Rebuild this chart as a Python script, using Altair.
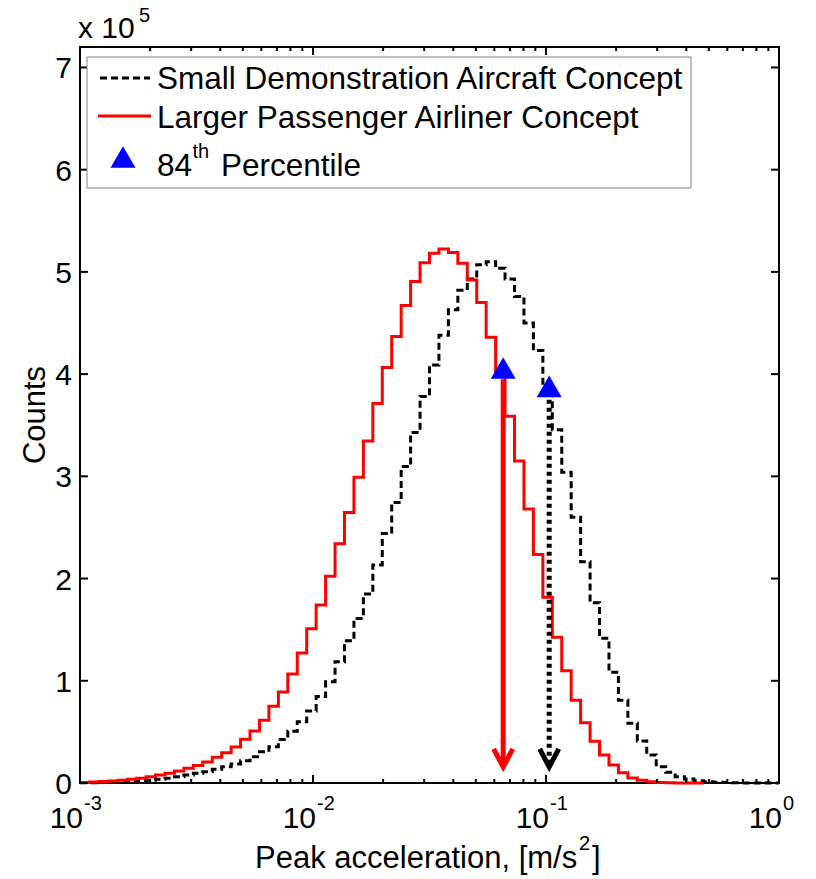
import altair as alt
import pandas as pd

# ---------------- data ----------------
# histogram bin edges (log10 of peak acceleration, m/s^2), 74 bins over 3 decades
edge_exp = [-3.0000, -2.9595, -2.9189, -2.8784, -2.8378, -2.7973, -2.7568, -2.7162, -2.6757, -2.6351,
            -2.5946, -2.5541, -2.5135, -2.4730, -2.4324, -2.3919, -2.3514, -2.3108, -2.2703, -2.2297,
            -2.1892, -2.1486, -2.1081, -2.0676, -2.0270, -1.9865, -1.9459, -1.9054, -1.8649, -1.8243,
            -1.7838, -1.7432, -1.7027, -1.6622, -1.6216, -1.5811, -1.5405, -1.5000, -1.4595, -1.4189,
            -1.3784, -1.3378, -1.2973, -1.2568, -1.2162, -1.1757, -1.1351, -1.0946, -1.0541, -1.0135,
            -0.9730, -0.9324, -0.8919, -0.8514, -0.8108, -0.7703, -0.7297, -0.6892, -0.6486, -0.6081,
            -0.5676, -0.5270, -0.4865, -0.4459, -0.4054, -0.3649, -0.3243, -0.2838, -0.2432, -0.2027,
            -0.1622, -0.1216, -0.0811, -0.0405, 0.0000]

# counts per bin, in units of 10^5
small_counts = [0.002, 0.003, 0.005, 0.007, 0.010, 0.014, 0.020, 0.026, 0.036, 0.046,
                0.062, 0.078, 0.095, 0.110, 0.134, 0.160, 0.186, 0.218, 0.257, 0.306,
                0.355, 0.425, 0.507, 0.600, 0.705, 0.845, 0.990, 1.187, 1.392, 1.610,
                1.850, 2.133, 2.440, 2.745, 3.095, 3.430, 3.780, 4.090, 4.380, 4.630,
                4.820, 4.930, 5.070, 5.100, 5.035, 4.930, 4.760, 4.500, 4.230, 3.870,
                3.456, 3.040, 2.600, 2.165, 1.764, 1.416, 1.083, 0.810, 0.584, 0.411,
                0.274, 0.160, 0.104, 0.062, 0.039, 0.022, 0.012, 0.007, 0.004, 0.002,
                0.001, 0.001, 0.0005, 0.0003]

large_counts = [0.006, 0.010, 0.014, 0.020, 0.026, 0.036, 0.046, 0.062, 0.078, 0.095,
                0.117, 0.144, 0.172, 0.205, 0.251, 0.297, 0.352, 0.428, 0.509, 0.615,
                0.750, 0.890, 1.067, 1.272, 1.510, 1.742, 2.022, 2.340, 2.645, 2.990,
                3.346, 3.713, 4.064, 4.367, 4.670, 4.905, 5.090, 5.183, 5.225, 5.190,
                5.085, 4.920, 4.700, 4.360, 4.000, 3.588, 3.150, 2.680, 2.235, 1.818,
                1.425, 1.098, 0.810, 0.590, 0.408, 0.274, 0.176, 0.100, 0.050, 0.026,
                0.012, 0.005, 0.002, 0.001, 0.0, 0.0]

series_names = ["Small Demonstration Aircraft Concept", "Larger Passenger Airliner Concept"]

# 84th percentile markers (x in m/s^2, y in 10^5 counts): [large, small]
pct_x = [0.0655, 0.1032]
pct_y = [4.06, 3.88]
arrow_top = [3.95, 3.75]
arrow_tip = [0.157, 0.157]

x_major = [0.001, 0.01, 0.1, 1.0]
x_exp_labels = ["-3", "-2", "-1", "0"]
x_minor = [2e-3, 3e-3, 4e-3, 5e-3, 6e-3, 7e-3, 8e-3, 9e-3,
           2e-2, 3e-2, 4e-2, 5e-2, 6e-2, 7e-2, 8e-2, 9e-2,
           2e-1, 3e-1, 4e-1, 5e-1, 6e-1, 7e-1, 8e-1, 9e-1]
y_major = [0, 1, 2, 3, 4, 5, 6, 7]

# ---------------- layout ----------------
W, H = 699, 736
FONT = "Liberation Sans"
FS = 30
FS_T = 31
FS_LEG = 31.5
FS_SUP = 20

xs = alt.Scale(type="log", domain=[0.001, 1.0], nice=False)
ys = alt.Scale(domain=[0, 7.2], nice=False, zero=False)


def stairs(vals, name):
    rows = []
    n = len(vals)
    for k in range(n):
        rows.append({"x": 10 ** edge_exp[k], "y": vals[k], "s": name})
    rows.append({"x": 10 ** edge_exp[n], "y": vals[n - 1], "s": name})
    return pd.DataFrame(rows)


small_df = stairs(small_counts, series_names[0])
large_df = stairs(large_counts, series_names[1])

X = lambda f="x": alt.X(f"{f}:Q", scale=xs, axis=None)
Y = lambda f="y": alt.Y(f"{f}:Q", scale=ys, axis=None)

small_line = alt.Chart(small_df).mark_line(
    interpolate="step-after", color="black", strokeWidth=3, strokeDash=[7, 4]
).encode(x=X(), y=Y())

large_line = alt.Chart(large_df).mark_line(
    interpolate="step-after", color="#FF0000", strokeWidth=3
).encode(x=X(), y=Y())

pct_df = pd.DataFrame({"x": pct_x, "y": pct_y, "top": arrow_top, "tip": arrow_tip,
                       "s": [series_names[1], series_names[0]]})
red_df = pct_df.iloc[[0]]
blk_df = pct_df.iloc[[1]]

red_arrow = alt.Chart(red_df).mark_rule(color="#FF0000", strokeWidth=5).encode(
    x=X(), y=Y("top"), y2="tip:Q")
blk_arrow = alt.Chart(blk_df).mark_rule(color="black", strokeWidth=5, strokeDash=[4, 4]).encode(
    x=X(), y=Y("top"), y2="tip:Q")

vshape = "M-0.53,-1L0,0L0.53,-1"
red_head = alt.Chart(red_df).mark_point(
    shape=vshape, filled=False, size=1296, stroke="#FF0000", strokeWidth=5, opacity=1,
    strokeJoin="miter").encode(x=X(), y=Y("tip"))
blk_head = alt.Chart(blk_df).mark_point(
    shape=vshape, filled=False, size=1296, stroke="black", strokeWidth=5, opacity=1,
    strokeJoin="miter").encode(x=X(), y=Y("tip"))

tri = alt.Chart(pct_df).mark_point(
    shape="triangle-up", filled=True, size=625, color="#0000FF", opacity=1
).encode(x=X(), y=Y())

# ---------------- ticks (inward, box) ----------------
xmaj_df = pd.DataFrame({"v": x_major, "e": x_exp_labels})
xmin_df = pd.DataFrame({"v": x_minor})
ymaj_df = pd.DataFrame({"v": y_major, "t": [str(v) for v in y_major]})

tick_layers = []
for df, ln in ((xmaj_df, 8), (xmin_df, 4)):
    tick_layers.append(alt.Chart(df).mark_rule(color="black", strokeWidth=2).encode(
        x=X("v"), y=alt.value(H), y2=alt.value(H - ln)))
    tick_layers.append(alt.Chart(df).mark_rule(color="black", strokeWidth=2).encode(
        x=X("v"), y=alt.value(0), y2=alt.value(ln)))
tick_layers.append(alt.Chart(ymaj_df).mark_rule(color="black", strokeWidth=2).encode(
    y=Y("v"), x=alt.value(0), x2=alt.value(8)))
tick_layers.append(alt.Chart(ymaj_df).mark_rule(color="black", strokeWidth=2).encode(
    y=Y("v"), x=alt.value(W), x2=alt.value(W - 8)))

# ---------------- tick labels ----------------
ylab = alt.Chart(ymaj_df).mark_text(
    font=FONT, fontSize=FS, align="right", baseline="alphabetic", dy=11, color="black"
).encode(y=Y("v"), x=alt.value(-8), text="t:N")

xlab_base = alt.Chart(xmaj_df).mark_text(
    font=FONT, fontSize=FS, align="right", baseline="alphabetic", dx=3, color="black", text="10"
).encode(x=X("v"), y=alt.value(H + 45))
xlab_sup = alt.Chart(xmaj_df).mark_text(
    font=FONT, fontSize=FS_SUP, align="left", baseline="alphabetic", dx=4, color="black"
).encode(x=X("v"), y=alt.value(H + 27), text="e:N")

one = pd.DataFrame({"a": [0]})


def txt(text, x, y, size=FS, align="left", angle=None, color="black"):
    kw = dict(font=FONT, fontSize=size, align=align, baseline="alphabetic", color=color, text=text)
    if angle is not None:
        kw["angle"] = angle
    return alt.Chart(one).mark_text(**kw).encode(x=alt.value(x), y=alt.value(y))


# exponent multiplier "x 10^5"
mult = [txt("x 10", -2, -9), txt("5", 59, -25, FS_SUP)]

# axis titles
titles = [
    txt("Peak acceleration, [m/s", 175, 821, FS_T),
    txt("2", 499, 803, FS_SUP),
    txt("]", 512, 821, FS_T),
    txt("Counts", -35, H / 2, FS_T, align="center", angle=270),
]

# ---------------- legend ----------------
legend_box = alt.Chart(one).mark_rect(fill="white", stroke="#808080", strokeWidth=1).encode(
    x=alt.value(7), x2=alt.value(611), y=alt.value(10), y2=alt.value(141))
leg_small = alt.Chart(one).mark_rule(color="black", strokeWidth=3, strokeDash=[7, 4]).encode(
    x=alt.value(20), x2=alt.value(70), y=alt.value(31))
leg_large = alt.Chart(one).mark_rule(color="#FF0000", strokeWidth=3).encode(
    x=alt.value(18), x2=alt.value(71), y=alt.value(69))
leg_tri = alt.Chart(one).mark_point(
    shape="triangle-up", filled=True, size=625, color="#0000FF", opacity=1).encode(
    x=alt.value(43), y=alt.value(110))
leg_text = [
    txt(series_names[0], 77, 42, FS_LEG),
    txt(series_names[1], 77, 81, FS_LEG),
    txt("84", 77, 129, FS_LEG),
    txt("th", 112.5, 111, FS_SUP),
    txt("Percentile", 141, 129, FS_LEG),
]

chart = alt.layer(
    small_line, large_line,
    red_arrow, blk_arrow, red_head, blk_head, tri,
    *tick_layers, ylab, xlab_base, xlab_sup, *mult, *titles,
    legend_box, leg_small, leg_large, leg_tri, *leg_text
).properties(
    width=W, height=H,
    padding={"left": 80, "top": 47, "right": 37, "bottom": 96},
    autosize=alt.AutoSizeParams(type="none"),
    background="white",
).configure_view(stroke="black", strokeWidth=2)

chart.save("out.html", embed_options={"renderer": "svg", "actions": False})
